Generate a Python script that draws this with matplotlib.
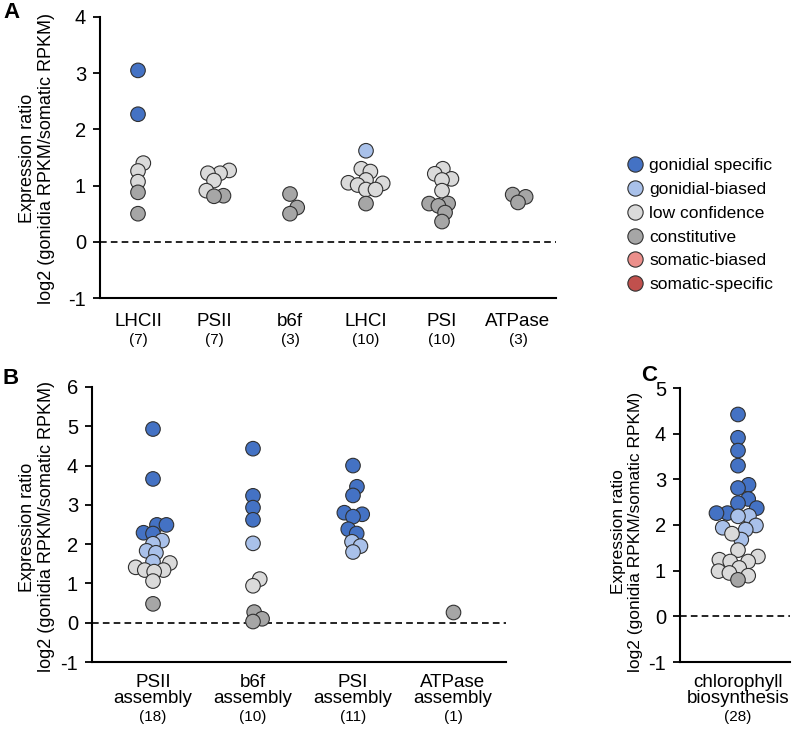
import numpy as np
import matplotlib
matplotlib.use('Agg')
import matplotlib.pyplot as plt
from matplotlib.lines import Line2D

plt.rcParams['font.family'] = ['Liberation Sans', 'DejaVu Sans']
plt.rcParams['axes.unicode_minus'] = False

W, H = 799, 742

CLASS_COLORS = {'gs': '#4472c4', 'gb': '#a9c1ea', 'lc': '#dadada',
                'co': '#a6a6a6', 'sb': '#ec8f8b', 'ss': '#c0504d'}
CLASS_KEYS = ['gs', 'gb', 'lc', 'co', 'sb', 'ss']
CLASS_NAMES = ['gonidial specific', 'gonidial-biased', 'low confidence',
               'constitutive', 'somatic-biased', 'somatic-specific']

# panel A: photosynthetic complexes
a_names = ['LHCII', 'PSII', 'b6f', 'LHCI', 'PSI', 'ATPase']
a_counts = [7, 7, 3, 10, 10, 3]
a_values = [
    [3.05, 2.27, 1.40, 1.26, 1.07, 0.88, 0.50],
    [1.27, 1.22, 1.22, 1.09, 0.91, 0.82, 0.81],
    [0.85, 0.61, 0.50],
    [1.62, 1.30, 1.25, 1.10, 1.05, 1.04, 1.01, 0.93, 0.93, 0.68],
    [1.30, 1.21, 1.12, 1.10, 0.91, 0.68, 0.68, 0.64, 0.52, 0.36],
    [0.84, 0.80, 0.70],
]
a_classes = [
    ['gs', 'gs', 'lc', 'lc', 'lc', 'co', 'co'],
    ['lc'] * 5 + ['co'] * 2,
    ['co'] * 3,
    ['gb'] + ['lc'] * 8 + ['co'],
    ['lc'] * 5 + ['co'] * 5,
    ['co'] * 3,
]

# panel B: assembly factors
b_names = ['PSII\nassembly', 'b6f\nassembly', 'PSI\nassembly', 'ATPase\nassembly']
b_counts = [18, 10, 11, 1]
b_values = [
    [4.93, 3.66, 2.49, 2.49, 2.29, 2.27, 2.09, 2.01, 1.83, 1.78, 1.55,
     1.52, 1.41, 1.34, 1.34, 1.30, 1.06, 0.48],
    [4.43, 3.23, 2.93, 2.62, 2.02, 1.11, 0.94, 0.27, 0.10, 0.03],
    [4.00, 3.46, 3.24, 2.80, 2.76, 2.70, 2.38, 2.27, 2.06, 1.95, 1.80],
    [0.28],
]
b_classes = [
    ['gs'] * 6 + ['gb'] * 5 + ['lc'] * 6 + ['co'],
    ['gs'] * 4 + ['gb'] + ['lc'] * 2 + ['co'] * 3,
    ['gs'] * 8 + ['gb'] * 3,
    ['co'],
]

# panel C: chlorophyll biosynthesis
c_names = ['chlorophyll\nbiosynthesis']
c_counts = [28]
c_values = [
    [4.42, 3.91, 3.63, 3.30, 2.88, 2.81, 2.57, 2.48, 2.37, 2.26, 2.26,
     2.20, 2.19, 1.99, 1.94, 1.90, 1.68,
     1.81, 1.45, 1.31, 1.24, 1.20, 1.20, 1.06, 0.99, 0.95, 0.89,
     0.80],
]
c_classes = [['gs'] * 11 + ['gb'] * 6 + ['lc'] * 10 + ['co']]


def px_axes(fig, left, right, top, bottom):
    return fig.add_axes([left / W, 1 - bottom / H, (right - left) / W, (bottom - top) / H])


def draw_swarm(ax, xpos, vals, classes, md=9.5):
    # simple beeswarm in pixel space, points may overlap a bit
    t = ax.transData
    px_per_x = t.transform((1, 0))[0] - t.transform((0, 0))[0]
    ypx = t.transform(np.column_stack([np.zeros(len(vals)), vals]))[:, 1]
    offs = np.zeros(len(vals))
    placed = []
    for i in np.argsort(ypx, kind='stable'):
        y = ypx[i]
        cands = [0.0]
        for px, py in placed:
            dy = y - py
            if abs(dy) < md:
                dx = np.sqrt(md ** 2 - dy ** 2)
                cands += [px + dx, px - dx]
        cands.sort(key=abs)
        for c in cands:
            if all((c - px) ** 2 + (y - py) ** 2 >= md ** 2 - 1e-6 for px, py in placed):
                break
        placed.append((c, y))
        offs[i] = c
    xs = xpos + offs / px_per_x
    colors = [CLASS_COLORS[k] for k in classes]
    ax.scatter(xs, vals, s=110, c=colors, edgecolors='#303030', linewidths=0.8,
               zorder=3, clip_on=False)


def setup_panel(ax, xlim, ylim, names, counts, name_dy, count_dy):
    ax.set_xlim(*xlim)
    ax.set_ylim(*ylim)
    ax.set_yticks(range(ylim[0], ylim[1] + 1))
    ax.set_xticks([])
    for s in ['top', 'right']:
        ax.spines[s].set_visible(False)
    for s in ['left', 'bottom']:
        ax.spines[s].set_linewidth(1.5)
    ax.tick_params(axis='y', direction='out', length=5, width=1.3, labelsize=14.5, pad=5)
    ax.axhline(0, color='black', lw=1.2, ls=(0, (4, 2.5)), zorder=1)
    for i, (n, c) in enumerate(zip(names, counts)):
        ax.annotate(n, (i, ylim[0]), xytext=(0, -name_dy), textcoords='offset pixels',
                    ha='center', va='top', fontsize=13.5, linespacing=0.95,
                    annotation_clip=False)
        nlines = n.count('\n') + 1
        ax.annotate('({})'.format(c), (i, ylim[0]),
                    xytext=(0, -name_dy - count_dy - 17 * (nlines - 1)),
                    textcoords='offset pixels', ha='center', va='top', fontsize=11,
                    annotation_clip=False)


fig = plt.figure(figsize=(W / 100, H / 100), dpi=100)

ax_a = px_axes(fig, 100, 556, 17, 298)
setup_panel(ax_a, (-0.5, 5.5), (-1, 4), a_names, a_counts, 15, 20)
for i in range(len(a_names)):
    draw_swarm(ax_a, i, a_values[i], a_classes[i])

ax_b = px_axes(fig, 92, 506, 387, 662)
setup_panel(ax_b, (-0.61, 3.53), (-1, 6), b_names, b_counts, 12, 19)
for i in range(len(b_names)):
    draw_swarm(ax_b, i, b_values[i], b_classes[i])

ax_c = px_axes(fig, 680, 790, 388, 662)
setup_panel(ax_c, (-0.58, 0.52), (-1, 5), c_names, c_counts, 12, 19)
draw_swarm(ax_c, 0, c_values[0], c_classes[0], md=11.0)

ylab = 'Expression ratio\nlog2 (gonidia RPKM/somatic RPKM)'
for x, yc, fs in [(37, 158, 13), (37, 527, 13), (627, 532, 12.5)]:
    fig.text(x / W, 1 - yc / H, ylab, rotation=90, ha='center', va='center',
             fontsize=fs, linespacing=1.2)

for letter, x, y in [('A', 3, 12), ('B', 3, 378), ('C', 641, 376)]:
    fig.text(x / W, 1 - y / H, letter, fontsize=16, fontweight='bold', ha='left', va='center')

handles = [Line2D([], [], ls='none', marker='o', markersize=11,
                  markerfacecolor=CLASS_COLORS[k], markeredgecolor='#303030',
                  markeredgewidth=0.8) for k in CLASS_KEYS]
fig.legend(handles, CLASS_NAMES, loc='upper left', bbox_to_anchor=(617 / W, 1 - 151 / H),
           frameon=False, fontsize=12.5, handletextpad=0.15, labelspacing=0.5,
           borderaxespad=0, handlelength=1.3)

fig.savefig('out.png', dpi=100)
